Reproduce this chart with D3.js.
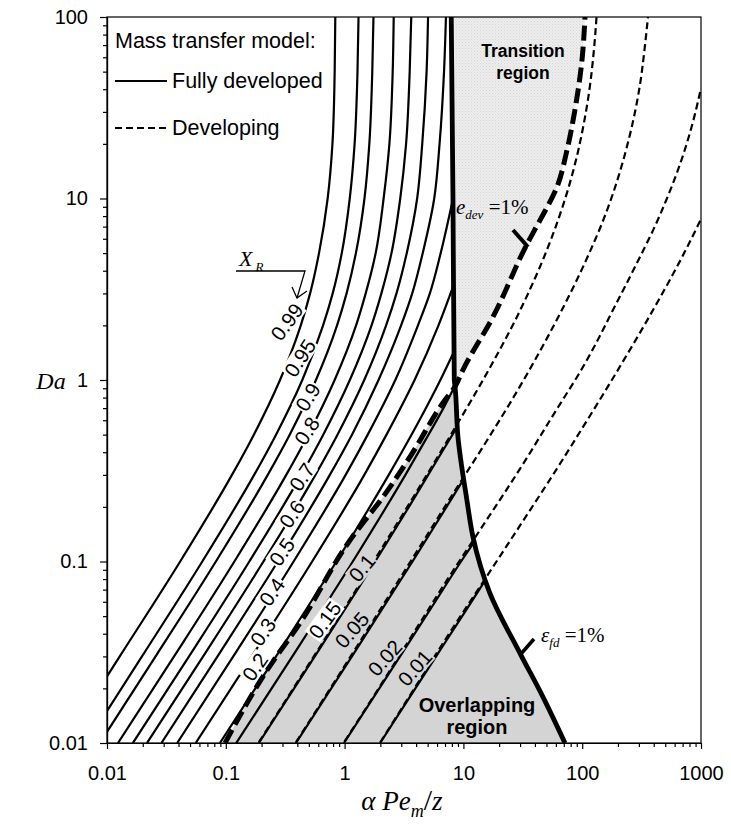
<!DOCTYPE html>
<html>
<head>
<meta charset="utf-8">
<script src="https://cdn.jsdelivr.net/npm/d3@7"></script>
<style>
  body { margin: 0; background: #fff; }
  text { font-family: "Liberation Sans", Arial, sans-serif; }
  .serif { font-family: "Liberation Serif", "Times New Roman", serif; }
</style>
</head>
<body>
<svg id="chart" width="731" height="825"></svg>
<script>
// ---- data: each curve is a list of [alpha*Pe_m/z, Da] pairs ----
const conversionLabels = ["0.99","0.95","0.9","0.8","0.7","0.6","0.5","0.4","0.3","0.2","0.15","0.1","0.05","0.02","0.01"];

// fully developed mass transfer model, one curve per X_R
const fd099 = [[0.01,0.0233],[0.0128,0.03],[0.0413,0.1],[0.1127,0.3],[0.1723,0.5],[0.286,1],[0.4277,2],[0.5125,3],[0.609,5],[0.72,10],[0.79,20],[0.825,50],[0.835,100]];
const fd095 = [[0.01,0.015],[0.0197,0.03],[0.0634,0.1],[0.1732,0.3],[0.2648,0.5],[0.4405,1],[0.659,2],[0.794,3],[0.947,5],[1.105,10],[1.214,20],[1.284,50],[1.31,100]];
const fd090 = [[0.01,0.01152],[0.02565,0.03],[0.0825,0.1],[0.2254,0.3],[0.345,0.5],[0.574,1],[0.864,2],[1.039,3],[1.245,5],[1.47,10],[1.615,20],[1.71,50],[1.75,100]];
const fd080 = [[0.01237,0.01],[0.0367,0.03],[0.1181,0.1],[0.3227,0.3],[0.494,0.5],[0.8245,1],[1.249,2],[1.505,3],[1.826,5],[2.13,10],[2.383,20],[2.54,50],[2.59,100]];
const fd070 = [[0.01652,0.01],[0.04905,0.03],[0.1578,0.1],[0.4316,0.3],[0.661,0.5],[1.107,1],[1.686,2],[2.04,3],[2.481,5],[2.94,10],[3.292,20],[3.531,50],[3.64,100]];
const fd060 = [[0.02172,0.01],[0.06446,0.03],[0.2074,0.1],[0.5676,0.3],[0.871,0.5],[1.463,1],[2.236,2],[2.734,3],[3.335,5],[4.08,10],[4.503,20],[4.9,50],[5.04,100]];
const fd050 = [[0.02871,0.01],[0.0852,0.03],[0.2742,0.1],[0.7512,0.3],[1.154,0.5],[1.93,1],[2.99,2],[3.71,3],[4.545,5],[5.68,10],[6.3,20],[6.87,50],[7.13,100]];
const fd040 = [[0.03896,0.01],[0.1156,0.03],[0.3722,0.1],[1.0207,0.3],[1.566,0.5],[2.672,1],[4.145,2],[5.22,3],[6.438,5],[8.18,10]];
const fd030 = [[0.0558,0.01],[0.1656,0.03],[0.5333,0.1],[1.4655,0.3],[2.254,0.5],[3.882,1],[6.17,2],[8.3,3.35]];
const fd020 = [[0.0892,0.01],[0.2647,0.03],[0.853,0.1],[2.353,0.3],[4.265,0.6],[6.4,1],[8.4,1.45]];
const fd015 = [[0.1225,0.01],[0.3634,0.03],[1.172,0.1],[3.25,0.3],[5.09,0.5],[6.79,0.7],[8.5,0.93]];
const fd010 = [[0.1896,0.01],[0.5613,0.03],[1.81,0.1],[3.48,0.2],[5.05,0.3],[6.58,0.4],[9.0,0.56]];
const fd005 = [[0.3894,0.01],[1.153,0.03],[3.73,0.1],[7.22,0.2],[9.9,0.28]];
const fd002 = [[0.988,0.01],[2.93,0.03],[5.79,0.06],[9.55,0.1],[12.5,0.13]];
const fd001 = [[1.99,0.01],[3.943,0.02],[5.89,0.03],[9.77,0.05],[13.6,0.07],[15.3,0.079]];
const fullyDeveloped = [fd099, fd095, fd090, fd080, fd070, fd060, fd050, fd040, fd030, fd020, fd015, fd010, fd005, fd002, fd001];

// developing mass transfer model
const dev010 = [[0.19,0.0101],[0.5,0.0272],[1,0.0553],[2,0.115],[4,0.24],[8,0.51],[15,1.03],[30,2.418],[50,5.13],[80,12.62],[110,32.8],[128,76.3],[132,100]];
const dev005 = [[0.39,0.0101],[1,0.0266],[2,0.0545],[4,0.112],[8,0.231],[15,0.44],[30,0.925],[60,2.099],[100,4.109],[160,8.446],[245,20.8],[310,44.5],[335,66.7],[358,100]];
const dev002 = [[1,0.0102],[2,0.0207],[4,0.0425],[8,0.087],[15,0.162],[30,0.3245],[60,0.677],[100,1.16],[200,2.75],[318,5.0],[400,6.8],[500,9.5],[700,17],[850,26],[1000,40.6]];
const dev001 = [[2,0.0101],[4,0.0207],[8,0.0423],[15,0.079],[30,0.158],[60,0.318],[100,0.542],[200,1.138],[400,2.468],[700,4.818],[1000,7.7]];
const developing = [dev010, dev005, dev002, dev001];

// error limits: epsilon_fd = 1% (thick solid) and e_dev = 1% (thick dashed)
const epsFd = [[71.6,0.01],[46.8,0.0179],[29.9,0.0313],[16.7,0.067],[12.05,0.136],[10.7,0.218],[9.0,0.485],[8.5,0.92],[8.38,1],[8.17,10],[7.9,100]];
const eDev = [[0.0985,0.01],[0.2225,0.0252],[0.421,0.0458],[1.07,0.1265],[2.32,0.248],[3.55,0.377],[7.0,0.776],[8.5,0.92],[9.9,1.135],[17.7,2.22],[34.3,5.6],[44.2,7.6],[61.4,11.6],[74.5,18.5],[86.9,30.8],[99.6,58],[105.6,100]];
// point where the two limits cross
const crossing = [8.5, 0.92];

// axes
const xMajor = [0.01, 0.1, 1, 10, 100, 1000];
const xTickLabels = ["0.01", "0.1", "1", "10", "100", "1000"];
const yMajor = [0.01, 0.1, 1, 10, 100];
const yTickLabels = ["0.01", "0.1", "1", "10", "100"];

// ---- drawing ----
const svg = d3.select("#chart");
const L = 107, R = 701, T = 17, B = 743;
const x = d3.scaleLog().domain([0.01, 1000]).range([L, R]);
const y = d3.scaleLog().domain([0.01, 100]).range([B, T]);

const defs = svg.append("defs");
defs.append("clipPath").attr("id", "plotClip")
  .append("rect").attr("x", L).attr("y", T).attr("width", R - L).attr("height", B - T);
const pat = defs.append("pattern").attr("id", "transFill")
  .attr("patternUnits", "userSpaceOnUse").attr("width", 3).attr("height", 3);
pat.append("rect").attr("width", 3).attr("height", 3).attr("fill", "#ededed");
pat.append("rect").attr("x", 0).attr("y", 0).attr("width", 1).attr("height", 1).attr("fill", "#d6d6d6");
pat.append("rect").attr("x", 1.5).attr("y", 1.5).attr("width", 1).attr("height", 1).attr("fill", "#e0e0e0");

const line = d3.line().x(d => x(d[0])).y(d => y(d[1])).curve(d3.curveMonotoneY);
const plot = svg.append("g").attr("clip-path", "url(#plotClip)");

// shaded regions bounded by the two limit curves
const above = pts => pts.filter(p => p[1] >= crossing[1]);
const below = pts => pts.filter(p => p[1] <= crossing[1]);
const joinPaths = (a, b) => line(a) + line(b).replace(/^M/, "L") + "Z";

plot.append("path").attr("d", joinPaths(above(epsFd), above(eDev).reverse()))
  .attr("fill", "url(#transFill)");
plot.append("path").attr("d", joinPaths(below(eDev), below(epsFd).reverse()))
  .attr("fill", "#d4d4d4");

// fully developed curves (thin solid)
plot.selectAll(".fd").data(fullyDeveloped).join("path")
  .attr("class", "fd").attr("d", line).attr("fill", "none")
  .attr("stroke", "#000").attr("stroke-width", 2.2);

// developing curves (thin dashed)
plot.selectAll(".dev").data(developing).join("path")
  .attr("class", "dev").attr("d", line).attr("fill", "none")
  .attr("stroke", "#000").attr("stroke-width", 2.2).attr("stroke-dasharray", "7,4");

// limit curves
plot.append("path").attr("d", line(eDev)).attr("fill", "none")
  .attr("stroke", "#000").attr("stroke-width", 5).attr("stroke-dasharray", "15,6");
plot.append("path").attr("d", line(epsFd)).attr("fill", "none")
  .attr("stroke", "#000").attr("stroke-width", 4.8);

// curve labels (X_R values), placed beside each curve
const labelPos = [[287,322],[300,358],[308,397],[307,431],[302,477],[292,514],[282,552],[272,592],[263,632],[255,667],[325,620],[362,568],[352,630],[385,658],[415,668]];
const labelAngle = [-54,-57,-58,-57,-56,-55,-55,-55,-55,-55,-54,-51,-49,-49,-49];
const labelBg = ["#fff","#fff","#fff","#fff","#fff","#fff","#fff","#fff","#fff","#fff","#fff","#d4d4d4","#d4d4d4","#d4d4d4","#d4d4d4"];
const lbl = svg.append("g");
conversionLabels.forEach((t, i) => {
  const [px, py] = labelPos[i];
  const g = lbl.append("g").attr("transform", `translate(${px},${py}) rotate(${labelAngle[i]})`);
  const tx = g.append("text").attr("text-anchor", "middle").attr("dy", "0.35em")
    .attr("font-size", 20.5).text(t);
  const bb = tx.node().getBBox();
  g.insert("rect", "text").attr("x", bb.x - 1).attr("y", bb.y + 2)
    .attr("width", bb.width + 2).attr("height", bb.height - 4).attr("fill", labelBg[i]);
});

// frame
svg.append("rect").attr("x", L).attr("y", T).attr("width", R - L).attr("height", B - T)
  .attr("fill", "none").attr("stroke", "#000").attr("stroke-width", 1.2);

// axes with minor ticks
const minorOf = d => d3.range(0, d.length - 1).flatMap(i => d3.range(2, 10).map(k => d[i] * k));
svg.append("g").attr("transform", `translate(0,${B})`)
  .call(d3.axisBottom(x).tickValues(minorOf(xMajor)).tickFormat("").tickSize(4).tickSizeOuter(0));
svg.append("g").attr("transform", `translate(0,${B})`)
  .call(d3.axisBottom(x).tickValues(xMajor).tickFormat((d, i) => xTickLabels[i]).tickSize(6).tickPadding(17).tickSizeOuter(0));
svg.append("g").attr("transform", `translate(${L},0)`)
  .call(d3.axisLeft(y).tickValues(minorOf(yMajor)).tickFormat("").tickSize(4).tickSizeOuter(0));
svg.append("g").attr("transform", `translate(${L},0)`)
  .call(d3.axisLeft(y).tickValues(yMajor).tickFormat((d, i) => yTickLabels[i]).tickSize(7).tickPadding(12).tickSizeOuter(0));
svg.selectAll(".domain").attr("stroke", "#000").attr("stroke-width", 1.2);
svg.selectAll(".tick line").attr("stroke", "#000").attr("stroke-width", 1.2);
svg.selectAll(".tick text").attr("font-family", "Liberation Sans, Arial, sans-serif")
  .attr("font-size", 20).attr("fill", "#000");

// axis titles
svg.append("text").attr("class", "serif").attr("x", 51).attr("y", 389)
  .attr("text-anchor", "middle").attr("font-size", 24).attr("font-style", "italic").text("Da");
const xt = svg.append("text").attr("class", "serif").attr("x", 402).attr("y", 810)
  .attr("text-anchor", "middle").attr("font-size", 27);
xt.append("tspan").attr("font-style", "italic").text("α Pe");
xt.append("tspan").attr("font-style", "italic").attr("font-size", 18).attr("dy", 7).text("m");
xt.append("tspan").attr("dy", -7).attr("font-size", 30).text("/");
xt.append("tspan").attr("font-style", "italic").text("z");

// legend
svg.append("text").attr("x", 115).attr("y", 48).attr("font-size", 21.5).text("Mass transfer model:");
svg.append("line").attr("x1", 115).attr("x2", 167).attr("y1", 81).attr("y2", 81)
  .attr("stroke", "#000").attr("stroke-width", 2.2);
svg.append("text").attr("x", 172).attr("y", 88).attr("font-size", 21.5).text("Fully developed");
svg.append("line").attr("x1", 115).attr("x2", 167).attr("y1", 128).attr("y2", 128)
  .attr("stroke", "#000").attr("stroke-width", 2.2).attr("stroke-dasharray", "7,4");
svg.append("text").attr("x", 172).attr("y", 135).attr("font-size", 21.5).text("Developing");

// region names
svg.append("text").attr("x", 523).attr("y", 57).attr("text-anchor", "middle")
  .attr("font-weight", "bold").attr("font-size", 17.5).text("Transition");
svg.append("text").attr("x", 523).attr("y", 79).attr("text-anchor", "middle")
  .attr("font-weight", "bold").attr("font-size", 17.5).text("region");
svg.append("text").attr("x", 477).attr("y", 712).attr("text-anchor", "middle")
  .attr("font-weight", "bold").attr("font-size", 20).text("Overlapping");
svg.append("text").attr("x", 477).attr("y", 734).attr("text-anchor", "middle")
  .attr("font-weight", "bold").attr("font-size", 20).text("region");

// error limit annotations
const ed = svg.append("text").attr("class", "serif").attr("x", 456).attr("y", 214).attr("font-size", 21);
ed.append("tspan").attr("font-style", "italic").text("e");
ed.append("tspan").attr("font-style", "italic").attr("font-size", 13).attr("dy", 5).text("dev");
ed.append("tspan").attr("dy", -5).text(" =1%");
svg.append("line").attr("x1", 513).attr("y1", 230).attr("x2", 528).attr("y2", 247)
  .attr("stroke", "#000").attr("stroke-width", 4);

const ef = svg.append("text").attr("class", "serif").attr("x", 541).attr("y", 642).attr("font-size", 21);
ef.append("tspan").attr("font-style", "italic").text("ε");
ef.append("tspan").attr("font-style", "italic").attr("font-size", 13).attr("dy", 5).text("fd");
ef.append("tspan").attr("dy", -5).text(" =1%");
svg.append("line").attr("x1", 520).attr("y1", 655).attr("x2", 534).attr("y2", 639)
  .attr("stroke", "#000").attr("stroke-width", 3.5);

// X_R pointer
const xr = svg.append("text").attr("class", "serif").attr("x", 239).attr("y", 266).attr("font-size", 22);
xr.append("tspan").attr("font-style", "italic").text("X");
xr.append("tspan").attr("font-style", "italic").attr("font-size", 13).attr("dx", 3).attr("dy", 5).text("R");
svg.append("polyline").attr("points", "236,271 305,271 297,298")
  .attr("fill", "none").attr("stroke", "#000").attr("stroke-width", 1.3);
svg.append("polyline").attr("points", "292,287 297,298 307,291")
  .attr("fill", "none").attr("stroke", "#000").attr("stroke-width", 1.3);
</script>
</body>
</html>
